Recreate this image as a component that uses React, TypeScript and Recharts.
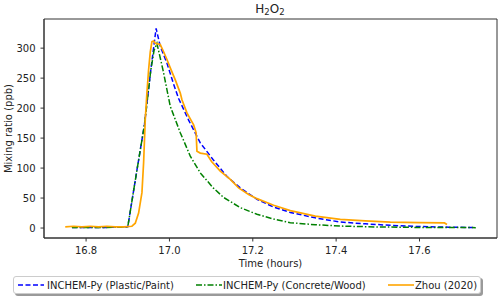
import React from 'react';
import { LineChart, Line, XAxis, YAxis, Legend, ReferenceArea } from 'recharts';

// INCHEM-Py (Plastic/Paint)
const plasticTime = [16.766, 16.8, 16.85, 16.9, 16.92, 16.94, 16.955, 16.968, 16.978, 16.994, 17.01, 17.022, 17.046, 17.074, 17.105, 17.138, 17.17, 17.21, 17.25, 17.29, 17.35, 17.41, 17.47, 17.53, 17.6, 17.67, 17.735];
const plasticValue = [1, 1, 1, 2, 88, 172, 262, 333, 303, 275, 240, 216, 180, 142, 114, 86, 67, 48, 35, 26, 17, 10, 7, 4.5, 2.5, 1.5, 0.7];

// INCHEM-Py (Concrete/Wood)
const concreteTime = [16.766, 16.8, 16.85, 16.9, 16.92, 16.94, 16.955, 16.963, 16.97, 16.985, 17.002, 17.014, 17.026, 17.05, 17.074, 17.105, 17.13, 17.17, 17.21, 17.25, 17.29, 17.35, 17.41, 17.5, 17.6, 17.735];
const concreteValue = [1, 1, 1, 2, 88, 172, 262, 296, 308, 262, 203, 181, 159, 120, 92, 67, 51, 34, 23, 15, 9, 5.5, 3.3, 1.8, 1, 0.7];

// Zhou (2020)
const zhouTime = [16.75, 16.77, 16.79, 16.81, 16.83, 16.85, 16.87, 16.89, 16.91, 16.918, 16.926, 16.934, 16.938, 16.942, 16.946, 16.95, 16.954, 16.958, 16.962, 16.966, 16.972, 16.978, 16.986, 16.994, 17.002, 17.014, 17.026, 17.03, 17.042, 17.058, 17.064, 17.066, 17.074, 17.09, 17.101, 17.122, 17.146, 17.166, 17.19, 17.21, 17.25, 17.29, 17.35, 17.41, 17.47, 17.53, 17.6, 17.66, 17.666];
const zhouValue = [2, 3, 2, 3, 2, 3, 2, 2, 3, 8, 25, 59, 109, 181, 226, 264, 294, 311, 312, 308, 307, 306, 294, 281, 267, 247, 225, 214, 192, 172, 159, 128, 125, 123, 111, 95, 81, 67, 56, 49, 38, 29, 20, 14.5, 12, 10, 9, 8.5, 6];

const xTicks = [16.8, 17.0, 17.2, 17.4, 17.6];
const yTicks = [0, 50, 100, 150, 200, 250, 300];
const xDomain = [16.699, 17.786];
const yDomain = [-16.6, 348.6];

const seriesNames = ['INCHEM-Py (Plastic/Paint)', 'INCHEM-Py (Concrete/Wood)', 'Zhou (2020)'];
const seriesColors = ['#0000ff', '#008000', '#ffa500'];
const seriesDash = ['5 2.5', '6 2 1.5 2', ''];

const toRows = (ts: number[], vs: number[]) => ts.map((t, i) => ({ t, v: vs[i] }));
const plasticData = toRows(plasticTime, plasticValue);
const concreteData = toRows(concreteTime, concreteValue);
const zhouData = toRows(zhouTime, zhouValue);

const FONT = '"DejaVu Sans", sans-serif';
const AX = '#333';

const LegendBox = () => (
  <div
    style={{
      width: 468,
      height: 18,
      border: '1px solid #cccccc',
      borderRadius: 3,
      boxShadow: '2px 2px 0 #9a9a9a',
      background: '#fff',
      fontFamily: FONT,
      fontSize: 10,
      color: '#222',
      position: 'relative',
      boxSizing: 'border-box',
    }}
  >
    {[
      { x: 3, tx: 33 },
      { x: 181, tx: 209 },
      { x: 373, tx: 401 },
    ].map((p, i) => (
      <React.Fragment key={i}>
        <svg style={{ position: 'absolute', left: p.x, top: 3 }} width={28} height={10}>
          <line x1={1} y1={5} x2={27} y2={5} stroke={seriesColors[i]} strokeWidth={1.6} strokeDasharray={seriesDash[i] || undefined} />
        </svg>
        <span style={{ position: 'absolute', left: p.tx, top: 2, whiteSpace: 'nowrap', lineHeight: '13px' }}>{seriesNames[i]}</span>
      </React.Fragment>
    ))}
  </div>
);

export default function App() {
  return (
    <div style={{ position: 'absolute', left: 0, top: 0, width: 500, height: 301, background: '#fff' }}>
      <div
        style={{
          position: 'absolute',
          left: 0,
          width: 540,
          top: 2,
          textAlign: 'center',
          fontFamily: FONT,
          fontSize: 12,
          color: '#222',
          lineHeight: '14px',
        }}
      >
        H<sub style={{ fontSize: 8.5, verticalAlign: '-2px' }}>2</sub>O<sub style={{ fontSize: 8.5, verticalAlign: '-2px' }}>2</sub>
      </div>
      <LineChart width={500} height={301} margin={{ top: 19, right: 3, bottom: 0, left: 0 }} style={{ position: 'absolute', left: 0, top: 0 }}>
        <XAxis
          dataKey="t"
          type="number"
          domain={xDomain}
          ticks={xTicks}
          allowDataOverflow
          height={63}
          tickSize={3.5}
          tickMargin={5}
          tickFormatter={(v: number) => v.toFixed(1)}
          tick={{ fill: '#222', fontSize: 10, fontFamily: FONT }}
          stroke={AX}
          tickLine={{ stroke: AX }}
          axisLine={{ stroke: AX }}
          label={(props: any) => {
            const vb = props.viewBox || { x: 44, width: 453, y: 238 };
            return (
              <text x={vb.x + vb.width / 2} y={267} textAnchor="middle" fontSize={10} fontFamily={FONT} fill="#222">
                Time (hours)
              </text>
            );
          }}
        />
        <YAxis
          type="number"
          domain={yDomain}
          ticks={yTicks}
          allowDataOverflow
          width={44}
          tickSize={3.5}
          tickMargin={5}
          tick={{ fill: '#222', fontSize: 10, fontFamily: FONT }}
          tickLine={{ stroke: AX }}
          axisLine={{ stroke: AX }}
          label={() => (
            <text x={8} y={128.5} transform="rotate(-90 8 128.5)" textAnchor="middle" dominantBaseline="central" fontSize={10} fontFamily={FONT} fill="#222">
              Mixing ratio (ppb)
            </text>
          )}
        />
        <ReferenceArea x1={xDomain[0]} x2={xDomain[1]} y1={yDomain[0]} y2={yDomain[1]} fill="none" fillOpacity={0} stroke={AX} strokeWidth={1} ifOverflow="visible" />
        <Line data={plasticData} dataKey="v" name={seriesNames[0]} type="linear" stroke={seriesColors[0]} strokeWidth={1.5} strokeDasharray={seriesDash[0]} dot={false} isAnimationActive={false} />
        <Line data={concreteData} dataKey="v" name={seriesNames[1]} type="linear" stroke={seriesColors[1]} strokeWidth={1.5} strokeDasharray={seriesDash[1]} dot={false} isAnimationActive={false} />
        <Line data={zhouData} dataKey="v" name={seriesNames[2]} type="linear" stroke={seriesColors[2]} strokeWidth={1.7} dot={false} isAnimationActive={false} />
        <Legend
          layout="horizontal"
          verticalAlign="middle"
          align="center"
          content={() => <LegendBox />}
          wrapperStyle={{ position: 'absolute', left: 13, top: 276, width: 470, height: 20 }}
        />
      </LineChart>
    </div>
  );
}
